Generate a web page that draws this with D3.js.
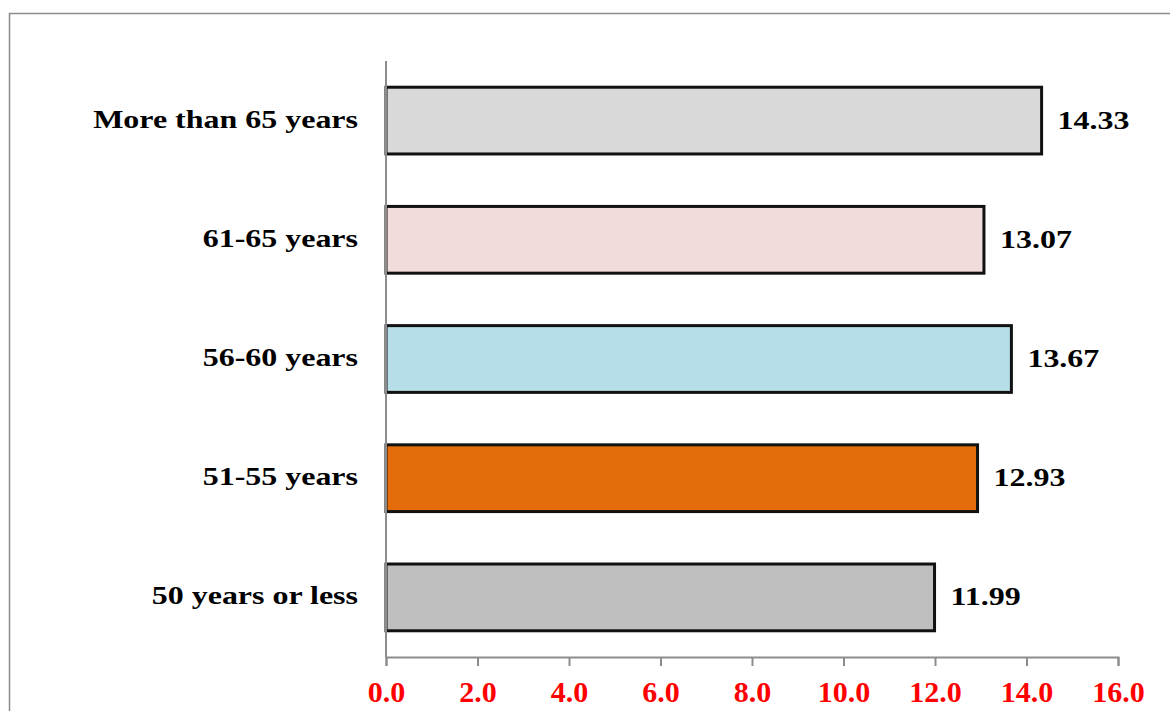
<!DOCTYPE html>
<html>
<head>
<meta charset="utf-8">
<script src="https://cdn.jsdelivr.net/npm/d3@7"></script>
<style>
  html, body { margin: 0; padding: 0; background: #fff; }
  svg { display: block; }
  text { font-family: "Liberation Serif", "Times New Roman", serif; font-weight: bold; }
</style>
</head>
<body>
<svg id="chart" width="1170" height="711"></svg>
<script>
// Age groups, listed top to bottom
const categories = ["More than 65 years", "61-65 years", "56-60 years", "51-55 years", "50 years or less"];
const values = [14.33, 13.07, 13.67, 12.93, 11.99];
const barColors = ["#d9d9d9", "#f2dcdb", "#b7dee8", "#e46c0a", "#bfbfbf"];
const tickValues = [0, 2, 4, 6, 8, 10, 12, 14, 16];

const svg = d3.select("#chart");
const stretch = 1.23; // wide-set lettering for the labels

// outer frame
svg.append("rect")
  .attr("x", 9.5).attr("y", 13.5)
  .attr("width", 1200).attr("height", 760)
  .attr("fill", "none")
  .attr("stroke", "#8c8c8c")
  .attr("stroke-width", 1.5);

const plotLeft = 386, plotRight = 1118, plotTop = 61, plotBottom = 657;

const x = d3.scaleLinear().domain([0, 16]).range([plotLeft, plotRight]);
const y = d3.scaleBand().domain(categories).range([plotTop, plotBottom]).paddingInner(0.44).paddingOuter(0.22);

// bars
svg.append("g").selectAll("rect")
  .data(categories)
  .join("rect")
  .attr("x", x(0))
  .attr("y", d => y(d))
  .attr("width", (d, i) => x(values[i]) - x(0))
  .attr("height", y.bandwidth())
  .attr("fill", (d, i) => barColors[i])
  .attr("stroke", "#111")
  .attr("stroke-width", 3);

// value labels
svg.append("g").selectAll("text")
  .data(categories)
  .join("text")
  .attr("transform", (d, i) => `translate(${x(values[i]) + 16},${y(d) + y.bandwidth() / 2 + 8}) scale(${stretch},1)`)
  .attr("font-size", 26)
  .attr("fill", "#000")
  .text((d, i) => values[i].toFixed(2));

// category axis (left)
svg.append("line")
  .attr("x1", x(0)).attr("x2", x(0))
  .attr("y1", plotTop).attr("y2", plotBottom)
  .attr("stroke", "#8c8c8c").attr("stroke-width", 2);

svg.append("g").selectAll("text")
  .data(categories)
  .join("text")
  .attr("transform", d => `translate(358,${y(d) + y.bandwidth() / 2 + 7}) scale(${stretch},1)`)
  .attr("text-anchor", "end")
  .attr("font-size", 26)
  .attr("fill", "#000")
  .text(d => d);

// value axis (bottom)
const xAxis = d3.axisBottom(x)
  .tickValues(tickValues)
  .tickSize(9)
  .tickFormat(d3.format(".1f"));

const gx = svg.append("g")
  .attr("transform", `translate(0,${plotBottom})`)
  .call(xAxis);

gx.select(".domain").attr("stroke", "#8c8c8c").attr("stroke-width", 2);
gx.selectAll(".tick line").attr("stroke", "#8c8c8c").attr("stroke-width", 2);
gx.selectAll(".tick text")
  .attr("y", 24)
  .attr("fill", "#ff0000")
  .attr("font-size", 30)
  .attr("font-family", "'Liberation Serif', 'Times New Roman', serif")
  .attr("font-weight", "bold");
</script>
</body>
</html>
